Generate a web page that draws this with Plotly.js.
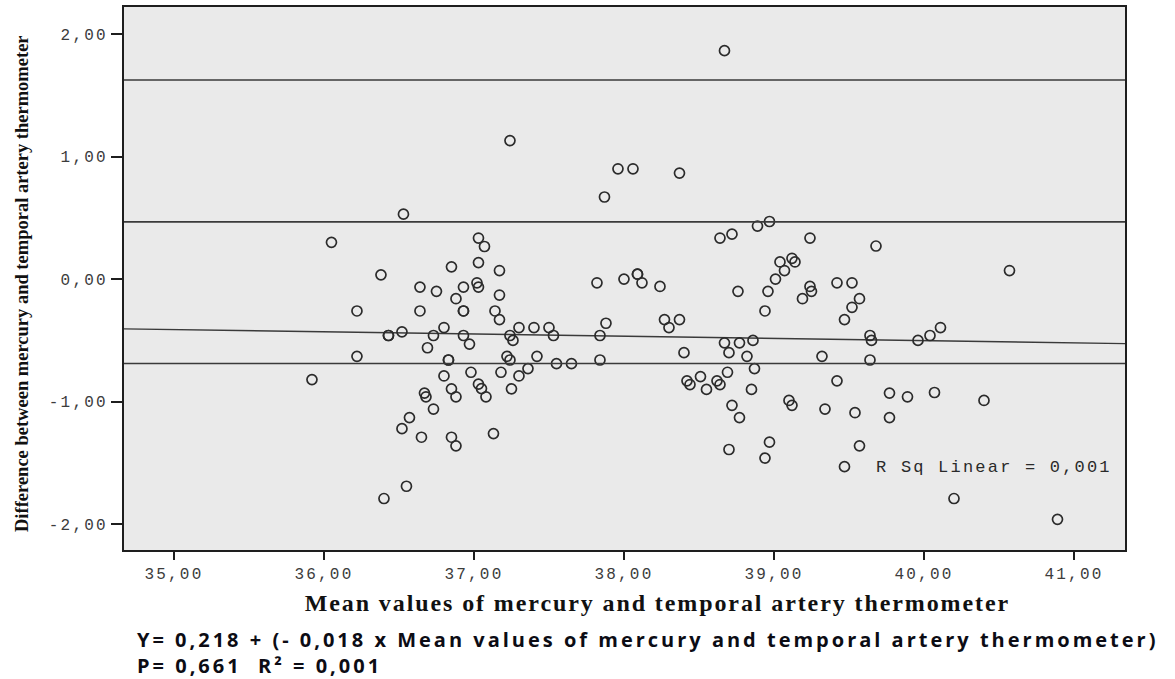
<!DOCTYPE html>
<html>
<head>
<meta charset="utf-8">
<script src="https://cdn.plot.ly/plotly-3.0.1.min.js"></script>
<style>
  html, body { margin: 0; padding: 0; background: #ffffff; }
  #chart { width: 1175px; height: 679px; }
  .xtick text, .ytick text { letter-spacing: 2.2px; }
  .annotation[data-index="0"] text { letter-spacing: 2.2px; }
  .annotation[data-index="1"] text { letter-spacing: 1.9px; }
  .annotation[data-index="3"] text { letter-spacing: 3px; }
</style>
</head>
<body>
<div id="chart"></div>
<script>
// Mean of the two thermometers (x) and their difference (y)
const meanValues = [
  35.92, 36.05, 36.22, 36.22, 36.38, 36.43, 36.43, 36.40, 36.53, 36.52,
  36.52, 36.55, 36.57, 36.64, 36.64, 36.67, 36.68, 36.65, 36.69, 36.73,
  36.73, 36.75, 36.80, 36.80, 36.83, 36.83, 36.85, 36.85, 36.85, 36.88,
  36.88, 36.88, 36.93, 36.93, 36.93, 36.93, 36.97, 36.98, 37.02, 37.03,
  37.03, 37.03, 37.03, 37.05, 37.07, 37.08, 37.14, 37.13, 37.17, 37.17,
  37.17, 37.18, 37.22, 37.24, 37.26, 37.24, 37.25, 37.24, 37.30, 37.30,
  37.36, 37.40, 37.42, 37.50, 37.53, 37.55, 37.65,
  37.82, 37.84, 37.84, 37.87, 37.88, 37.96, 38.00, 38.06, 38.09, 38.09,
  38.12, 38.24, 38.27, 38.30, 38.37, 38.37, 38.40, 38.42, 38.44, 38.51,
  38.55, 38.62, 38.64, 38.64, 38.67, 38.67, 38.69, 38.70, 38.70, 38.72,
  38.72, 38.76, 38.77, 38.77, 38.82, 38.85, 38.86, 38.87, 38.89, 38.94,
  38.94, 38.96, 38.97, 38.97, 39.01, 39.04, 39.07, 39.10, 39.12, 39.14,
  39.12, 39.19, 39.24, 39.24, 39.25, 39.32, 39.34, 39.42, 39.42, 39.47,
  39.47, 39.52, 39.52, 39.54, 39.57, 39.57, 39.64, 39.65, 39.64, 39.68,
  39.77, 39.77, 39.89, 39.96, 40.04, 40.07, 40.11, 40.20, 40.40, 40.57,
  40.89
];
const differences = [
  -0.82, 0.30, -0.26, -0.63, 0.035, -0.46, -0.46, -1.79, 0.53, -0.43,
  -1.22, -1.69, -1.13, -0.065, -0.26, -0.93, -0.96, -1.29, -0.56, -0.46,
  -1.06, -0.10, -0.395, -0.79, -0.66, -0.66, 0.10, -0.895, -1.29, -0.16,
  -0.96, -1.36, -0.26, -0.26, -0.46, -0.065, -0.53, -0.76, -0.03, -0.065,
  0.135, 0.335, -0.857, -0.893, 0.266, -0.96, -0.26, -1.26, -0.33, 0.07,
  -0.13, -0.76, -0.63, -0.46, -0.50, -0.66, -0.895, 1.13, -0.395, -0.79,
  -0.73, -0.395, -0.63, -0.395, -0.46, -0.69, -0.69,
  -0.03, -0.46, -0.66, 0.67, -0.36, 0.90, 0.00, 0.90, 0.04, 0.04,
  -0.03, -0.06, -0.33, -0.395, 0.865, -0.33, -0.60, -0.83, -0.86, -0.795,
  -0.90, -0.83, -0.86, 0.335, 1.864, -0.52, -0.76, -0.60, -1.39, 0.367,
  -1.03, -0.10, -0.52, -1.13, -0.63, -0.90, -0.50, -0.73, 0.433, -0.26,
  -1.46, -0.10, 0.47, -1.33, 0.00, 0.14, 0.07, -0.99, 0.17, 0.14,
  -1.03, -0.16, 0.335, -0.06, -0.10, -0.63, -1.06, -0.03, -0.83, -0.33,
  -1.53, -0.03, -0.23, -1.09, -0.16, -1.36, -0.46, -0.50, -0.66, 0.27,
  -0.93, -1.13, -0.96, -0.50, -0.46, -0.925, -0.395, -1.79, -0.99, 0.07,
  -1.96
];

// Horizontal reference lines (upper limit, mean line, lower limit)
const referenceLines = [1.624, 0.467, -0.688];
// Fitted linear regression: Y = intercept + slope * X
const fitIntercept = 0.218;
const fitSlope = -0.018;

const xRange = [34.667, 41.34];
const yRange = [-2.21, 2.22];
const xTickVals = [35, 36, 37, 38, 39, 40, 41];
const xTickLabels = ['35,00', '36,00', '37,00', '38,00', '39,00', '40,00', '41,00'];
const yTickVals = [-2, -1, 0, 1, 2];
const yTickLabels = ['-2,00', '-1,00', '0,00', '1,00', '2,00'];

const xTitle = 'Mean values of mercury and temporal artery thermometer';
const yTitle = 'Difference between mercury and temporal artery thermometer';
const rsqLabel = 'R Sq Linear = 0,001';
const equationLine = 'Y= 0,218 + (- 0,018 x Mean values of mercury and temporal artery thermometer)';
const statsLine = 'P= 0,661&nbsp;&nbsp;R² = 0,001';

const lineColor = '#3a3a3a';

const fitTrace = {
  type: 'scatter', mode: 'lines',
  x: xRange,
  y: xRange.map(v => fitIntercept + fitSlope * v),
  line: { color: lineColor, width: 1.4 },
  hoverinfo: 'skip', showlegend: false
};

const pointsTrace = {
  type: 'scatter', mode: 'markers',
  x: meanValues, y: differences,
  marker: { symbol: 'circle-open', size: 10, color: '#2b2b2b', line: { width: 1.7, color: '#2b2b2b' } },
  showlegend: false
};

const shapes = referenceLines.map(v => ({
  type: 'line', xref: 'paper', x0: 0, x1: 1, yref: 'y', y0: v, y1: v,
  line: { color: lineColor, width: 1.6 }
}));

const monoFont = { family: 'Liberation Mono, DejaVu Sans Mono, monospace', size: 16, color: '#3c3c3c' };
const serifBold = 'Liberation Serif, DejaVu Serif, serif';
const captionFont = { family: 'Open Sans, Liberation Sans, sans-serif', size: 20, color: '#0c0c14' };

const layout = {
  width: 1175, height: 679,
  margin: { l: 124, r: 50, t: 7, b: 129 },
  paper_bgcolor: '#ffffff',
  plot_bgcolor: '#eaeaea',
  showlegend: false,
  xaxis: {
    range: xRange, tickvals: xTickVals, ticktext: xTickLabels,
    showgrid: false, zeroline: false,
    showline: true, mirror: true, linecolor: '#1e1e1e', linewidth: 2,
    ticks: 'outside', ticklen: 8, tickwidth: 2, tickcolor: '#1e1e1e',
    tickfont: monoFont
  },
  yaxis: {
    range: yRange, tickvals: yTickVals, ticktext: yTickLabels,
    showgrid: false, zeroline: false,
    showline: true, mirror: true, linecolor: '#1e1e1e', linewidth: 2,
    ticks: 'outside', ticklen: 11, tickwidth: 2, tickcolor: '#1e1e1e',
    tickfont: monoFont
  },
  shapes: shapes,
  annotations: [
    { text: rsqLabel, xref: 'paper', yref: 'paper', x: 0.869, y: 0.152,
      xanchor: 'center', yanchor: 'middle', showarrow: false,
      font: { family: 'Liberation Mono, DejaVu Sans Mono, monospace', size: 17, color: '#2a2a2a' } },
    { text: '<b>' + xTitle + '</b>', xref: 'paper', yref: 'paper', x: 0.5325, y: -0.0976,
      xanchor: 'center', yanchor: 'middle', showarrow: false,
      font: { family: serifBold, size: 24, color: '#111111' } },
    { text: '<b>' + yTitle + '</b>', xref: 'paper', yref: 'paper', x: -0.1019, y: 0.4917,
      xanchor: 'center', yanchor: 'middle', showarrow: false, textangle: -90,
      font: { family: serifBold, size: 18.5, color: '#111111' } },
    { text: '<b>' + equationLine + '<br>' + statsLine + '</b>', xref: 'paper', yref: 'paper',
      x: 0.011, y: -0.1892, align: 'left',
      xanchor: 'left', yanchor: 'middle', showarrow: false,
      font: captionFont }
  ]
};

Plotly.newPlot('chart', [fitTrace, pointsTrace], layout, { displayModeBar: false, staticPlot: true });
</script>
</body>
</html>
